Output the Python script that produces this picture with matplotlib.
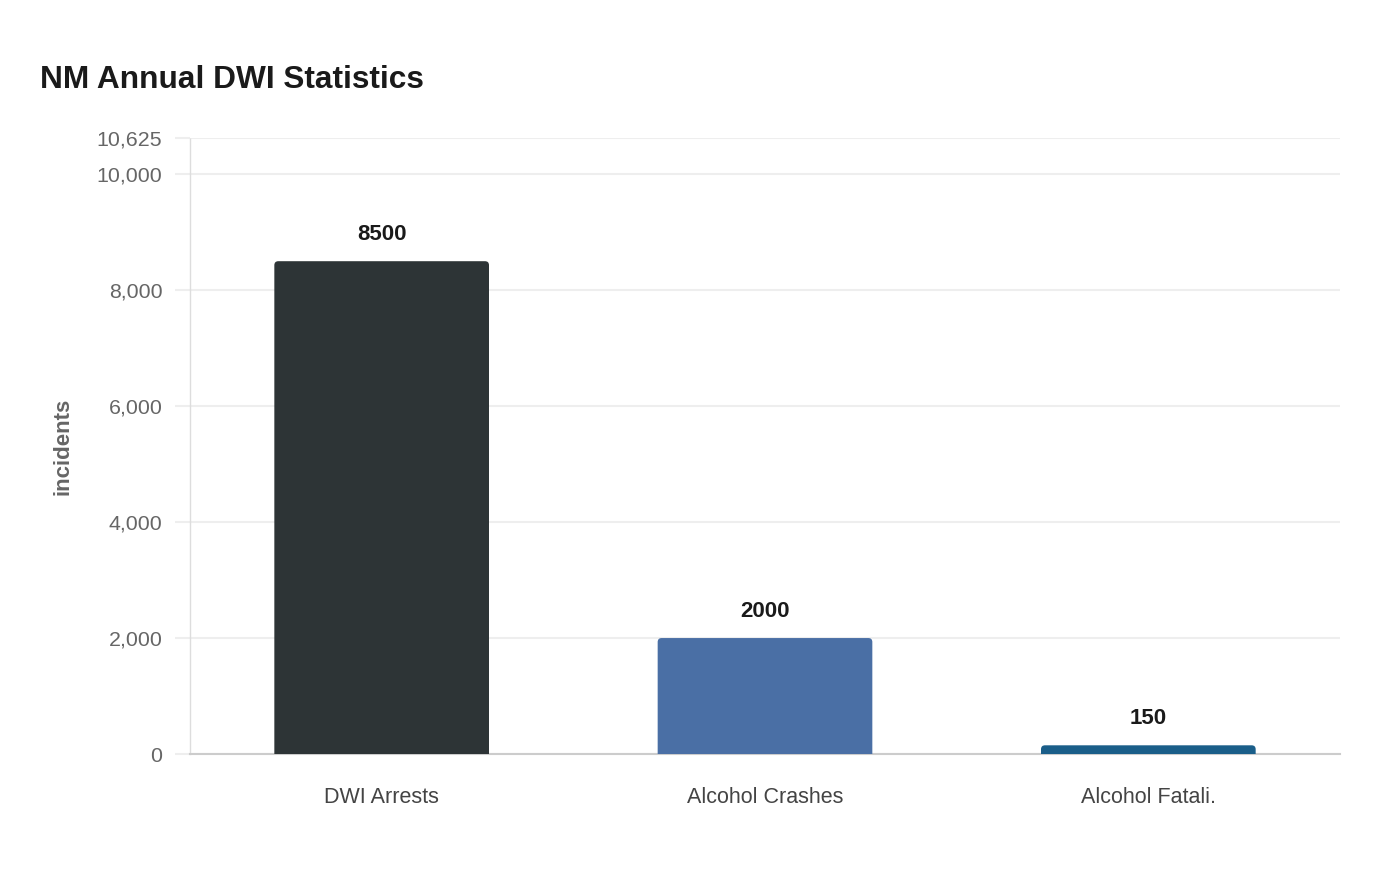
import matplotlib.pyplot as plt
from matplotlib.path import Path
from matplotlib.patches import PathPatch

categories = ["DWI Arrests", "Alcohol Crashes", "Alcohol Fatali."]
values = [8500, 2000, 150]
colors = ["#2d3436", "#4a6fa5", "#1a5e89"]
y_ticks = [0, 2000, 4000, 6000, 8000, 10000, 10625]
y_max = 10625

plt.rcParams["font.family"] = ["Liberation Sans", "DejaVu Sans"]

fig = plt.figure(figsize=(14, 8.8), dpi=100)
ax = fig.add_axes([190 / 1400, 126 / 880, 1150 / 1400, 616 / 880])

bar_width = 0.56
ax.set_xlim(-0.5, len(categories) - 0.5)
ax.set_ylim(0, y_max)

# corner radius of 4 px, converted to data units on each axis
px_x = (len(categories)) / 1150
px_y = y_max / 616
rx, ry = 4 * px_x, 4 * px_y


def rounded_top_bar(x, h, w, color):
    x0, x1 = x - w / 2, x + w / 2
    r_y = min(ry, h / 2)
    verts = [
        (x0, 0), (x0, h - r_y), (x0, h), (x0 + rx, h),
        (x1 - rx, h), (x1, h), (x1, h - r_y), (x1, 0), (x0, 0),
    ]
    codes = [
        Path.MOVETO, Path.LINETO, Path.CURVE3, Path.CURVE3,
        Path.LINETO, Path.CURVE3, Path.CURVE3, Path.LINETO, Path.CLOSEPOLY,
    ]
    ax.add_patch(PathPatch(Path(verts, codes), facecolor=color, edgecolor="none", zorder=3))


for i, (v, c) in enumerate(zip(values, colors)):
    rounded_top_bar(i, v, bar_width, c)
    ax.text(i, v + 16 * px_y, str(v), ha="center", va="bottom",
            fontsize=16, fontweight="bold", color="#1a1a1a")

ax.set_xticks(range(len(categories)))
ax.set_xticklabels(categories, fontsize=15.5, color="#444444")
ax.tick_params(axis="x", length=0, pad=24)

ax.set_yticks(y_ticks)
ax.set_yticklabels([f"{t:,}" for t in y_ticks], fontsize=15.4, color="#666666")
ax.tick_params(axis="y", length=10.8, color="#eeeeee", width=1.5, pad=9)
ax.yaxis.grid(True, color="#eeeeee", linewidth=1.5)
ax.set_axisbelow(True)

for s in ["top", "right"]:
    ax.spines[s].set_visible(False)
ax.spines["left"].set_color("#dddddd")
ax.spines["left"].set_linestyle((0, (1, 1)))
ax.spines["left"].set_linewidth(1)
ax.spines["bottom"].set_color("#cccccc")
ax.spines["bottom"].set_linewidth(1.5)

ax.set_ylabel("incidents", fontsize=16, fontweight="bold", color="#666666", labelpad=16.5)

fig.text(40 / 1400, 1 - 80 / 880, "NM Annual DWI Statistics", fontsize=22.8,
         fontweight="bold", color="#1a1a1a", va="center", ha="left")

fig.savefig("out.png", dpi=100, facecolor="white")
